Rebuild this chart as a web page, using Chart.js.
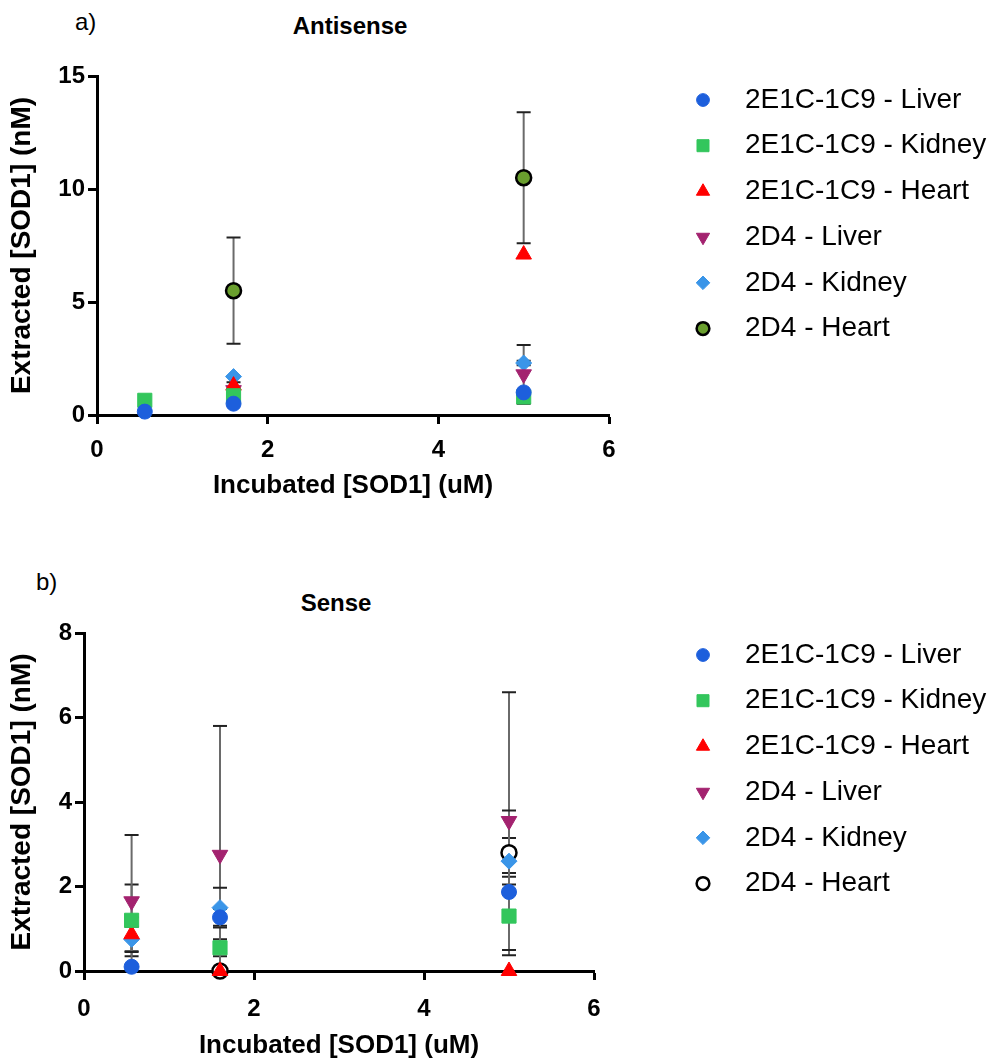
<!DOCTYPE html>
<html>
<head>
<meta charset="utf-8">
<script src="https://cdn.jsdelivr.net/npm/chart.js@4.4.1/dist/chart.umd.min.js"></script>
<style>
  body { margin: 0; background: #fff; font-family: "Liberation Sans", Arial, sans-serif; }
  #page { position: relative; width: 989px; height: 1061px; overflow: hidden; }
  .lbl { position: absolute; font-size: 24px; color: #000; }
  .ttl { position: absolute; width: 300px; text-align: center; font-size: 24px; font-weight: bold; color: #000; }
  .panel { position: absolute; left: 0; width: 989px; }
</style>
</head>
<body>
<div id="page">
  <div class="lbl" style="left:75px; top:8px;">a)</div>
  <div class="ttl" style="left:200px; top:12px;">Antisense</div>
  <div class="panel" style="top:0; height:540px;"><canvas id="antisense" width="989" height="540"></canvas></div>

  <div class="lbl" style="left:36px; top:568px;">b)</div>
  <div class="ttl" style="left:186px; top:589px;">Sense</div>
  <div class="panel" style="top:560px; height:501px;"><canvas id="sense" width="989" height="501"></canvas></div>
</div>

<script>
/* ================= DATA ================= */
const xVals = [0.56, 1.6, 5];
const seriesNames = [
  "2E1C-1C9 - Liver", "2E1C-1C9 - Kidney", "2E1C-1C9 - Heart",
  "2D4 - Liver", "2D4 - Kidney", "2D4 - Heart"
];

// a) Antisense, mean and error (nM)
const asLiver      = [0.15, 0.5, 1.0];
const asKidney     = [0.65, 0.85, 0.8];
const asHeart      = [null, 1.3, 7.1];
const asD4Liver    = [null, 1.1, 1.8];
const asD4Kidney   = [null, 1.7, 2.3];
const asD4Heart    = [null, 5.5, 10.5];
const asLiverErr    = [0, 0, 0];
const asKidneyErr   = [0, 0, 0];
const asHeartErr    = [0, 0.15, 0];
const asD4LiverErr  = [0, 0, 1.3];
const asD4KidneyErr = [0, 0, 0.1];
const asD4HeartErr  = [0, 2.35, 2.9];

// b) Sense, mean and error (nM)
const sLiver      = [0.1, 1.27, 1.87];
const sKidney     = [1.2, 0.55, 1.3];
const sHeart      = [0.87, 0, 0];
const sD4Liver    = [1.65, 2.75, 3.55];
const sD4Kidney   = [0.75, 1.5, 2.6];
const sD4Heart    = [null, 0, 2.8];
const sLiverErr    = [0, 0.2, 0.45];
const sKidneyErr   = [0.85, 0.2, 0.93];
const sHeartErr    = [0.4, 0, 0];
const sD4LiverErr  = [1.57, 3.05, 3.05];
const sD4KidneyErr = [0.3, 0.47, 0.55];
const sD4HeartErr  = [0, 0, 1.0];

/* ================= STYLES ================= */
const FONT = "'Liberation Sans', Arial, sans-serif";
const markerStyles = [
  { pointStyle: "circle",   rotation: 0,   radius: 7.5, fill: "#1d5fdc", border: "#1d5fdc", bw: 1 },
  { pointStyle: "rect",     rotation: 0,   radius: 10,  fill: "#33c65c", border: "#33c65c", bw: 1 },
  { pointStyle: "triangle", rotation: 0,   radius: 9,   fill: "#ff0000", border: "#ff0000", bw: 1 },
  { pointStyle: "triangle", rotation: 180, radius: 9,   fill: "#a3226f", border: "#a3226f", bw: 1 },
  { pointStyle: "rectRot",  rotation: 0,   radius: 8,   fill: "#3a95e8", border: "#3a95e8", bw: 1 },
  { pointStyle: "circle",   rotation: 0,   radius: 7.5, fill: "#6a9f2e", border: "#000000", bw: 2.5 }
];

function buildDatasets(means, errs, lastFill) {
  return means.map((vals, i) => {
    const st = markerStyles[i];
    return {
      label: seriesNames[i],
      data: xVals.map((x, j) => ({ x, y: vals[j] })),
      errors: errs[i],
      showLine: false,
      clip: false,
      pointStyle: st.pointStyle,
      pointRotation: st.rotation,
      pointRadius: st.radius,
      pointHoverRadius: st.radius,
      backgroundColor: i === 5 ? lastFill : st.fill,
      borderColor: st.border,
      pointBorderWidth: st.bw
    };
  });
}

/* ================= PLUGINS ================= */
const errorBars = {
  id: "errorBars",
  beforeDatasetsDraw(chart) {
    const { ctx, scales: { x, y } } = chart;
    ctx.save();
    chart.data.datasets.forEach(ds => {
      ds.data.forEach((p, j) => {
        const e = ds.errors[j];
        if (p.y == null || !e) return;
        const px = x.getPixelForValue(p.x);
        const top = y.getPixelForValue(p.y + e);
        const bot = y.getPixelForValue(Math.max(p.y - e, y.min));
        ctx.strokeStyle = "#6a6a6a";
        ctx.lineWidth = 2;
        ctx.beginPath();
        ctx.moveTo(px, top);
        ctx.lineTo(px, bot);
        ctx.stroke();
        ctx.strokeStyle = "#222";
        ctx.beginPath();
        ctx.moveTo(px - 7, top); ctx.lineTo(px + 7, top);
        if (p.y - e > y.min) { ctx.moveTo(px - 7, bot); ctx.lineTo(px + 7, bot); }
        ctx.stroke();
      });
    });
    ctx.restore();
  }
};

const sideLegend = {
  id: "sideLegend",
  afterDraw(chart, args, opts) {
    const { ctx, chartArea } = chart;
    ctx.save();
    ctx.font = "28px " + FONT;
    ctx.textBaseline = "middle";
    chart.data.datasets.forEach((ds, i) => {
      const st = markerStyles[i];
      const yy = chartArea.top + opts.offset + i * opts.step;
      ctx.fillStyle = ds.backgroundColor;
      ctx.strokeStyle = st.border;
      ctx.lineWidth = st.bw;
      Chart.helpers.drawPoint(ctx, {
        pointStyle: st.pointStyle, rotation: st.rotation,
        radius: st.radius * 0.85, borderWidth: st.bw
      }, opts.markerX, yy);
      ctx.fillStyle = "#000";
      ctx.fillText(ds.label, opts.textX, yy);
    });
    ctx.restore();
  }
};

/* ================= CHART ================= */
function makeChart(id, datasets, yMax, yStep, top, rightEdge, axisLeft, plotH, xAxisH, tickPad, legendOffset) {
  const canvas = document.getElementById(id);
  return new Chart(canvas, {
    type: "scatter",
    data: { datasets },
    options: {
      responsive: false,
      animation: false,
      events: [],
      layout: { padding: { top, left: 0, right: 989 - rightEdge, bottom: canvas.height - top - xAxisH - plotH } },
      plugins: {
        legend: { display: false },
        tooltip: { enabled: false },
        sideLegend: { markerX: 703, textX: 745, offset: legendOffset, step: 45.7 }
      },
      scales: {
        x: {
          type: "linear", min: 0, max: 6,
          ticks: { stepSize: 2, color: "#000", padding: tickPad, font: { family: FONT, size: 24, weight: "bold" } },
          grid: { drawOnChartArea: false, tickLength: 9, tickWidth: 3, tickColor: "#000" },
          border: { color: "#000", width: 3 },
          title: { display: true, text: "Incubated [SOD1] (uM)", color: "#000", padding: 0,
                   font: { family: FONT, size: 26, weight: "bold" } },
          afterFit(s) { s.height = xAxisH; }
        },
        y: {
          type: "linear", min: 0, max: yMax,
          ticks: { stepSize: yStep, color: "#000", padding: 3, font: { family: FONT, size: 24, weight: "bold" } },
          grid: { drawOnChartArea: false, tickLength: 9, tickWidth: 3, tickColor: "#000" },
          border: { color: "#000", width: 3 },
          title: { display: true, text: "Extracted [SOD1] (nM)", color: "#000", padding: { top: 5, bottom: 0 },
                   font: { family: FONT, size: 28, weight: "bold" } },
          afterFit(s) { s.width = axisLeft; }
        }
      }
    },
    plugins: [errorBars, sideLegend]
  });
}

const asData = buildDatasets(
  [asLiver, asKidney, asHeart, asD4Liver, asD4Kidney, asD4Heart],
  [asLiverErr, asKidneyErr, asHeartErr, asD4LiverErr, asD4KidneyErr, asD4HeartErr],
  "#6a9f2e"
);
const sData = buildDatasets(
  [sLiver, sKidney, sHeart, sD4Liver, sD4Kidney, sD4Heart],
  [sLiverErr, sKidneyErr, sHeartErr, sD4LiverErr, sD4KidneyErr, sD4HeartErr],
  "#ffffff"
);

// top panel: plot area 97..609 x 76..415; bottom panel: 84..594 x 73..411 (in its own canvas)
makeChart("antisense", asData, 15, 5, 76, 609, 97, 339, 86, 12, 24);
makeChart("sense", sData, 8, 2, 73, 594, 84, 338, 90, 15, 22);
</script>
</body>
</html>
